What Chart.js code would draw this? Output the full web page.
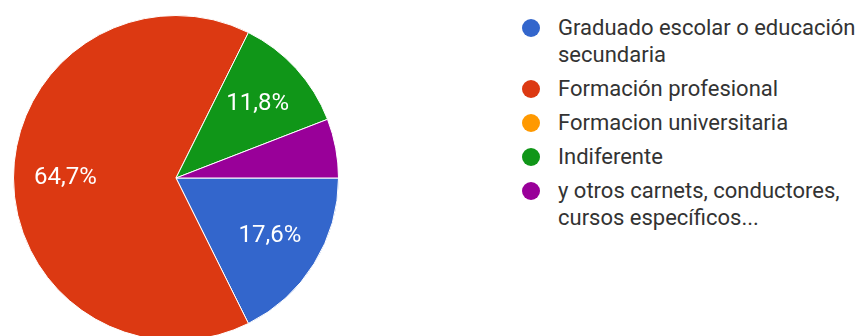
<!DOCTYPE html>
<html lang="es">
<head>
<meta charset="utf-8">
<title>Respuestas</title>
<script src="https://cdn.jsdelivr.net/npm/chart.js@4.4.1/dist/chart.umd.min.js"></script>
<style>
    html, body {
        margin: 0;
        padding: 0;
        width: 858px;
        height: 336px;
        overflow: hidden;
        background: #fff;
        font-family: Roboto, "Noto Sans", Arial, sans-serif;
    }

    .pie-wrapper {
        position: absolute;
        left: 13px;
        top: 15px;
        width: 326px;
        height: 326px;
    }

    .pie-legend {
        position: absolute;
        left: 522px;
        top: 14px;
        margin: 0;
        padding: 0;
        list-style: none;
        color: #333;
        font-size: 22px;
        line-height: 27px;
    }

    .pie-legend li {
        display: flex;
        align-items: flex-start;
        margin-bottom: 7px;
    }

    .pie-legend .swatch {
        flex: none;
        width: 18px;
        height: 18px;
        margin-top: 5px;
        margin-right: 18px;
        border-radius: 50%;
    }

    .pie-legend .text {
        width: 300px;
    }
</style>
</head>
<body>
<div class="pie-wrapper"><canvas id="pie"></canvas></div>
<ul class="pie-legend" id="pie-legend"></ul>

<script>
/* global Chart */

const categories = [
    'Graduado escolar o educación secundaria',
    'Formación profesional',
    'Formacion universitaria',
    'Indiferente',
    'y otros carnets, conductores, cursos específicos...'
];
const responses = [3, 11, 0, 2, 1];

const sliceColors = ['#3366cc', '#dc3912', '#ff9900', '#109618', '#990099'];

/**
 * Write the share of each slice as a white percentage inside the slice
 */
const sliceLabels = {
    id: 'sliceLabels',
    afterDatasetsDraw: (chart) => {
        'use strict';

        const ctx = chart.ctx;
        const values = chart.data.datasets[0].data;
        const total = values.reduce((sum, v) => sum + v, 0);
        const meta = chart.getDatasetMeta(0);

        ctx.save();
        ctx.fillStyle = '#ffffff';
        ctx.font = '24px Roboto, "Noto Sans", Arial, sans-serif';
        ctx.textAlign = 'center';
        ctx.textBaseline = 'middle';

        meta.data.forEach((arc, i) => {
            const share = values[i] / total * 100;

            if (share < 10) {
                return;
            }

            const p = arc.getProps(['x', 'y', 'startAngle', 'endAngle', 'outerRadius'], true);
            const mid = (p.startAngle + p.endAngle) / 2;
            const dist = p.outerRadius * 0.68;

            ctx.fillText(
                share.toFixed(1).replace('.', ',') + '%',
                p.x + Math.cos(mid) * dist,
                p.y + Math.sin(mid) * dist
            );
        });

        ctx.restore();
    }
};

/**
 * Build the legend list next to the pie
 *
 * @param {HTMLElement} list The list element to fill
 */
const buildLegend = (list) => {
    'use strict';

    categories.forEach((name, i) => {
        const item = document.createElement('li');
        const swatch = document.createElement('span');
        const text = document.createElement('span');

        swatch.className = 'swatch';
        swatch.style.background = sliceColors[i];
        text.className = 'text';
        text.textContent = name;

        item.appendChild(swatch);
        item.appendChild(text);
        list.appendChild(item);
    });
};

const chart = new Chart(document.getElementById('pie'), { // eslint-disable-line no-unused-vars
    type: 'pie',
    data: {
        labels: categories,
        datasets: [{
            data: responses,
            backgroundColor: sliceColors,
            borderColor: '#ffffff',
            borderWidth: 1
        }]
    },
    options: {
        responsive: true,
        maintainAspectRatio: false,
        animation: false,
        rotation: 90,
        layout: { padding: 0 },
        plugins: {
            legend: { display: false },
            tooltip: { enabled: false }
        }
    },
    plugins: [sliceLabels]
});

buildLegend(document.getElementById('pie-legend'));
</script>
</body>
</html>
